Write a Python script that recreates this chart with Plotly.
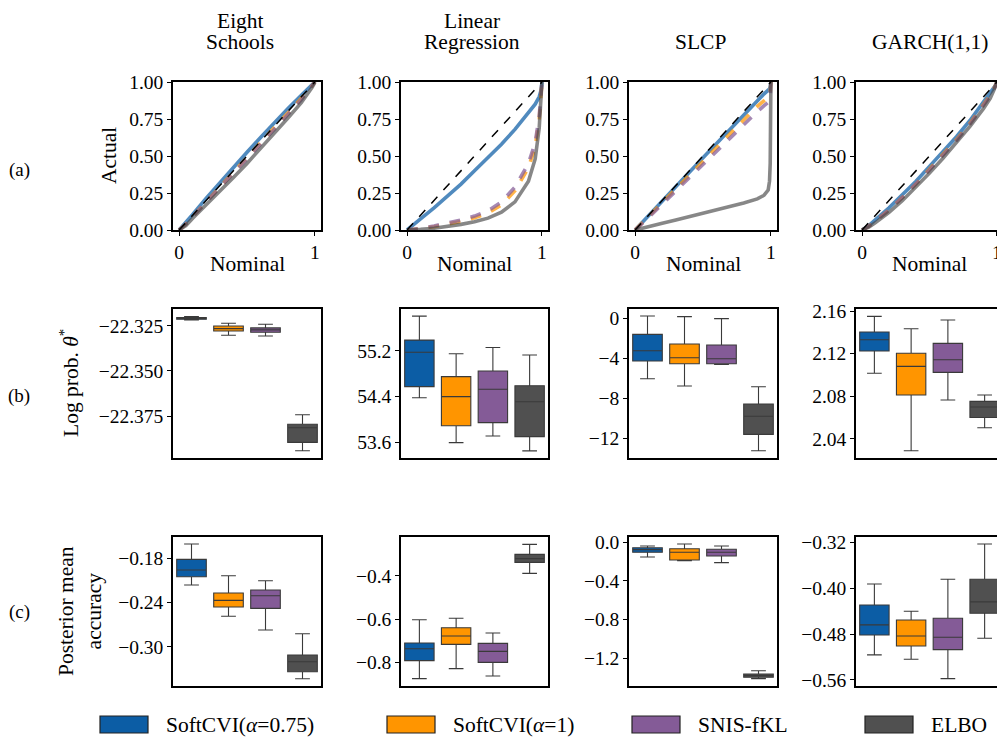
import plotly.graph_objects as go

W, H = 1005, 740
OFF = 8  # page offset of the plot in the browser

# ---------------- data ----------------
datasets = [["Eight", "Schools"], ["Linear", "Regression"], ["SLCP"], ["GARCH(1,1)"]]
methods = ["SoftCVI(<i>α</i>=0.75)", "SoftCVI(<i>α</i>=1)", "SNIS-fKL", "ELBO"]

nominal = [0, 0.05, 0.1, 0.2, 0.3, 0.4, 0.5, 0.6, 0.7, 0.8, 0.9, 0.95, 0.98, 0.99, 0.995, 1.0]
ideal = [0, 1]

cal_eight = [
    [0, 0.05, 0.105, 0.215, 0.32, 0.425, 0.525, 0.625, 0.725, 0.82, 0.91, 0.955, 0.982, 0.99, 0.995, 1.0],
    [0, 0.04, 0.09, 0.19, 0.29, 0.39, 0.485, 0.585, 0.685, 0.785, 0.885, 0.94, 0.975, 0.987, 0.993, 1.0],
    [0, 0.04, 0.09, 0.19, 0.29, 0.385, 0.48, 0.58, 0.68, 0.78, 0.88, 0.94, 0.975, 0.987, 0.993, 1.0],
    [0, 0.03, 0.08, 0.17, 0.26, 0.355, 0.45, 0.55, 0.65, 0.755, 0.86, 0.92, 0.965, 0.98, 0.99, 1.0],
]
cal_linreg = [
    [0, 0.035, 0.075, 0.15, 0.23, 0.31, 0.40, 0.49, 0.58, 0.68, 0.79, 0.85, 0.90, 0.93, 0.95, 1.0],
    [0, 0.003, 0.009, 0.022, 0.039, 0.058, 0.082, 0.115, 0.17, 0.265, 0.42, 0.565, 0.75, 0.85, 0.91, 1.0],
    [0, 0.004, 0.011, 0.027, 0.046, 0.068, 0.094, 0.13, 0.19, 0.29, 0.45, 0.59, 0.77, 0.86, 0.92, 1.0],
    [0, 0.001, 0.004, 0.012, 0.024, 0.038, 0.056, 0.08, 0.12, 0.19, 0.33, 0.48, 0.69, 0.81, 0.89, 1.0],
]
cal_slcp = [
    [0, 0.048, 0.097, 0.195, 0.293, 0.39, 0.488, 0.585, 0.683, 0.78, 0.875, 0.92, 0.945, 0.955, 0.97, 1.0],
    [0, 0.045, 0.092, 0.185, 0.278, 0.37, 0.465, 0.558, 0.65, 0.743, 0.835, 0.875, 0.895, 0.905, 0.93, 1.0],
    [0, 0.04, 0.085, 0.175, 0.265, 0.355, 0.445, 0.535, 0.625, 0.71, 0.80, 0.84, 0.86, 0.87, 0.90, 1.0],
    [0, 0.01, 0.022, 0.045, 0.068, 0.09, 0.112, 0.135, 0.158, 0.182, 0.21, 0.235, 0.27, 0.33, 0.45, 1.0],
]
cal_garch = [
    [0, 0.03, 0.07, 0.15, 0.24, 0.33, 0.43, 0.53, 0.63, 0.74, 0.86, 0.92, 0.965, 0.98, 0.99, 1.0],
    [0, 0.025, 0.06, 0.135, 0.22, 0.31, 0.41, 0.51, 0.61, 0.72, 0.84, 0.91, 0.96, 0.978, 0.99, 1.0],
    [0, 0.025, 0.06, 0.135, 0.22, 0.31, 0.405, 0.505, 0.605, 0.715, 0.835, 0.905, 0.955, 0.975, 0.988, 1.0],
    [0, 0.02, 0.05, 0.12, 0.20, 0.29, 0.385, 0.485, 0.59, 0.70, 0.82, 0.89, 0.95, 0.97, 0.985, 1.0],
]
calibration = [cal_eight, cal_linreg, cal_slcp, cal_garch]

# box statistics per method: [q1, median, q3, lower whisker, upper whisker]
logprob_eight = [
    [-22.3213, -22.3208, -22.3204, -22.3217, -22.3198],
    [-22.3278, -22.3265, -22.3250, -22.3302, -22.3235],
    [-22.3285, -22.3272, -22.3261, -22.3306, -22.3241],
    [-22.3896, -22.3815, -22.3796, -22.3943, -22.3743],
]
logprob_linreg = [
    [54.575, 55.177, 55.39, 54.38, 55.81],
    [53.89, 54.40, 54.75, 53.595, 55.15],
    [53.945, 54.53, 54.85, 53.71, 55.26],
    [53.70, 54.31, 54.59, 53.45, 55.13],
]
logprob_slcp = [
    [-4.26, -3.23, -1.6, -6.02, 0.23],
    [-4.53, -3.93, -2.56, -6.75, 0.17],
    [-4.53, -4.03, -2.66, -4.6, -0.03],
    [-11.57, -9.77, -8.54, -13.2, -6.82],
]
logprob_garch = [
    [2.1224, 2.133, 2.1403, 2.1015, 2.155],
    [2.0811, 2.108, 2.1203, 2.0287, 2.1434],
    [2.1024, 2.1142, 2.1296, 2.0764, 2.1515],
    [2.0600, 2.0698, 2.0751, 2.0503, 2.0811],
]
accuracy_eight = [
    [-0.205, -0.1959, -0.1814, -0.2162, -0.1606],
    [-0.2461, -0.237, -0.2271, -0.2587, -0.2036],
    [-0.2479, -0.2307, -0.223, -0.2773, -0.2104],
    [-0.3339, -0.3203, -0.3112, -0.3434, -0.2823],
]
accuracy_linreg = [
    [-0.791, -0.736, -0.7095, -0.874, -0.602],
    [-0.716, -0.677, -0.639, -0.828, -0.595],
    [-0.799, -0.748, -0.711, -0.862, -0.663],
    [-0.337, -0.32, -0.30, -0.388, -0.254],
]
accuracy_slcp = [
    [-0.103, -0.076, -0.056, -0.152, -0.038],
    [-0.183, -0.103, -0.066, -0.19, -0.018],
    [-0.142, -0.103, -0.072, -0.21, -0.038],
    [-1.396, -1.379, -1.362, -1.41, -1.328],
]
accuracy_garch = [
    [-0.4816, -0.4641, -0.4293, -0.5164, -0.3927],
    [-0.5008, -0.4833, -0.4554, -0.524, -0.4403],
    [-0.5072, -0.4856, -0.4525, -0.5578, -0.3845],
    [-0.4438, -0.424, -0.3845, -0.4873, -0.323],
]
logprob = [logprob_eight, logprob_linreg, logprob_slcp, logprob_garch]
accuracy = [accuracy_eight, accuracy_linreg, accuracy_slcp, accuracy_garch]

cal_ticks = [0, 0.25, 0.5, 0.75, 1.0]
cal_ticktext = ["0.00", "0.25", "0.50", "0.75", "1.00"]
nom_ticks = [0, 1]
nom_ticktext = ["0", "1"]

logprob_ticks = [
    [-22.325, -22.35, -22.375],
    [55.2, 54.4, 53.6],
    [0, -4, -8, -12],
    [2.16, 2.12, 2.08, 2.04],
]
logprob_ticktext = [
    ["−22.325", "−22.350", "−22.375"],
    ["55.2", "54.4", "53.6"],
    ["0", "−4", "−8", "−12"],
    ["2.16", "2.12", "2.08", "2.04"],
]
accuracy_ticks = [
    [-0.18, -0.24, -0.30],
    [-0.4, -0.6, -0.8],
    [0.0, -0.4, -0.8, -1.2],
    [-0.32, -0.40, -0.48, -0.56],
]
accuracy_ticktext = [
    ["−0.18", "−0.24", "−0.30"],
    ["−0.4", "−0.6", "−0.8"],
    ["0.0", "−0.4", "−0.8", "−1.2"],
    ["−0.32", "−0.40", "−0.48", "−0.56"],
]

logprob_ranges = [[-22.3983, -22.3156], [53.325, 55.935], [-13.93, 0.93], [2.0219, 2.1619]]
accuracy_ranges = [[-0.3533, -0.151], [-0.908, -0.22], [-1.486, 0.055], [-0.5706, -0.3108]]

# ---------------- styling ----------------
box_colors = ["#0C5DA5", "#FF9500", "#845B97", "#505050"]
line_colors = ["rgba(12,93,165,0.72)", "rgba(255,149,0,0.72)", "rgba(132,91,151,0.72)", "rgba(71,71,71,0.65)"]
line_dash = ["solid", "dash", "dash", "solid"]
FONT = "Liberation Serif"
TICK_SIZE = 19.5
LABEL_SIZE = 21.5

col_px = [(173, 321), (401, 548), (629, 777), (856, 1003)]
row_px = [(82, 230), (309, 458), (537, 686)]


def fx(px):
    return (px - OFF) / W


def fy(py):
    return 1 - (py - OFF) / H


fig = go.Figure()
layout = {}

axis_common = dict(
    showline=True, mirror=True, linecolor="black", linewidth=1.5, automargin=False,
    showgrid=False, zeroline=False, ticks="outside", ticklen=4, tickwidth=1.2,
    tickcolor="black", tickfont=dict(family=FONT, size=TICK_SIZE, color="black"),
)

idx = 0
for r in range(3):
    for c in range(4):
        idx += 1
        xa = "x" if idx == 1 else f"x{idx}"
        ya = "y" if idx == 1 else f"y{idx}"
        xkey = "xaxis" if idx == 1 else f"xaxis{idx}"
        ykey = "yaxis" if idx == 1 else f"yaxis{idx}"
        xd = [fx(col_px[c][0]), fx(col_px[c][1])]
        yd = [fy(row_px[r][1]), fy(row_px[r][0])]
        if r == 0:
            for m in range(4):
                fig.add_trace(go.Scatter(
                    x=nominal, y=calibration[c][m], mode="lines",
                    line=dict(color=line_colors[m], width=3.6, dash=line_dash[m]),
                    xaxis=xa, yaxis=ya, showlegend=False))
            fig.add_trace(go.Scatter(
                x=ideal, y=ideal, mode="lines",
                line=dict(color="black", width=1.5, dash="dash"),
                xaxis=xa, yaxis=ya, showlegend=False))
            layout[xkey] = dict(axis_common, domain=xd, anchor=ya, range=[-0.045, 1.045],
                                tickvals=nom_ticks, ticktext=nom_ticktext)
            layout[ykey] = dict(axis_common, domain=yd, anchor=xa, range=[0, 1],
                                tickvals=cal_ticks, ticktext=cal_ticktext)
        else:
            stats = logprob[c] if r == 1 else accuracy[c]
            for m in range(4):
                q1, med, q3, lo, hi = stats[m]
                fig.add_trace(go.Box(
                    x=[m], q1=[q1], median=[med], q3=[q3], lowerfence=[lo], upperfence=[hi],
                    width=0.8, fillcolor=box_colors[m], boxpoints=False, whiskerwidth=0.5,
                    line=dict(color="#3a3a3a", width=1.1),
                    xaxis=xa, yaxis=ya, showlegend=False, hoverinfo="skip"))
            ticks = logprob_ticks[c] if r == 1 else accuracy_ticks[c]
            ttext = logprob_ticktext[c] if r == 1 else accuracy_ticktext[c]
            rng = logprob_ranges[c] if r == 1 else accuracy_ranges[c]
            layout[xkey] = dict(axis_common, domain=xd, anchor=ya, range=[-0.5, 3.5],
                                ticks="", showticklabels=False)
            layout[ykey] = dict(axis_common, domain=yd, anchor=xa, range=rng,
                                tickvals=ticks, ticktext=ttext)

annotations = []
afont = dict(family=FONT, size=LABEL_SIZE, color="black")

# column titles (each line placed separately)
title_cx = [240, 472, 700, 930]
for c in range(4):
    lines = datasets[c]
    n = len(lines)
    for k, txt in enumerate(lines):
        py = 42 - 21 * (n - 1 - k)
        annotations.append(dict(text=txt, x=fx(title_cx[c]), y=fy(py), xref="paper", yref="paper",
                                xanchor="center", yanchor="middle", showarrow=False, font=afont,
                                borderpad=0))
# nominal labels
for c in range(4):
    annotations.append(dict(text="Nominal", x=fx((col_px[c][0] + col_px[c][1]) / 2), y=fy(264),
                            xref="paper", yref="paper", xanchor="center", yanchor="middle",
                            showarrow=False, font=afont))
# row labels
for lab, py in [("(a)", 170), ("(b)", 396), ("(c)", 612)]:
    annotations.append(dict(text=lab, x=fx(19), y=fy(py), xref="paper", yref="paper",
                            xanchor="center", yanchor="middle", showarrow=False,
                            font=dict(family=FONT, size=19, color="black")))
# y titles
annotations.append(dict(text="Actual", x=fx(109), y=fy(156), xref="paper", yref="paper",
                        xanchor="center", yanchor="middle", textangle=-90, showarrow=False, font=afont))
annotations.append(dict(text="Log prob. <i>θ</i><sup>*</sup>", x=fx(69), y=fy(383), xref="paper", yref="paper",
                        xanchor="center", yanchor="middle", textangle=-90, showarrow=False, font=afont))
annotations.append(dict(text="Posterior mean<br>accuracy", x=fx(80), y=fy(611), xref="paper", yref="paper",
                        xanchor="center", yanchor="middle", textangle=-90, showarrow=False, font=afont))

# legend
shapes = []
leg_x = [100, 387, 632, 865]
for m in range(4):
    shapes.append(dict(type="rect", xref="paper", yref="paper",
                       x0=fx(leg_x[m]), x1=fx(leg_x[m] + 48), y0=fy(733), y1=fy(716),
                       fillcolor=box_colors[m], line=dict(color="#222222", width=1.2)))
    annotations.append(dict(text=methods[m], x=fx(leg_x[m] + 64), y=fy(724.5), xref="paper", yref="paper",
                            xanchor="left", yanchor="middle", showarrow=False, font=afont))

fig.update_layout(
    template="none",
    width=W, height=H, margin=dict(l=0, r=0, t=0, b=0, autoexpand=False),
    paper_bgcolor="white", plot_bgcolor="white",
    boxmode="overlay", showlegend=False,
    annotations=annotations, shapes=shapes,
    font=dict(family=FONT, color="black"),
    **layout,
)

fig.write_html("out.html")
